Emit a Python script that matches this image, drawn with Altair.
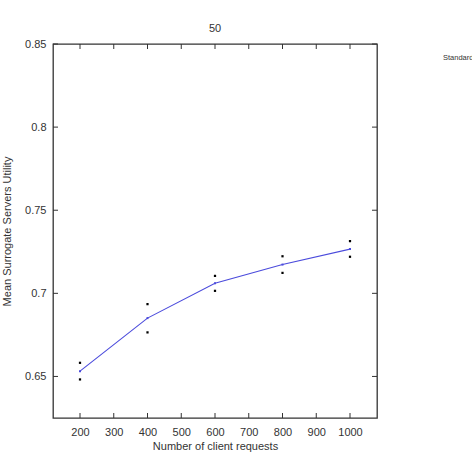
import altair as alt
import pandas as pd

# data
requests = [200, 400, 600, 800, 1000]
mean_util = [0.6532, 0.6851, 0.7061, 0.7173, 0.7266]
upper_util = [0.6582, 0.6935, 0.7105, 0.7223, 0.7314]
lower_util = [0.6482, 0.6765, 0.7015, 0.7123, 0.7220]
x_ticks = [200, 300, 400, 500, 600, 700, 800, 900, 1000]
y_ticks = [0.65, 0.7, 0.75, 0.8, 0.85]
legend_labels = ["Standard deviation"]
chart_title = "50"

W, H = 324, 374
TXT = "#333333"

df = pd.DataFrame({"x": requests, "mean": mean_util})
dev = pd.DataFrame({
    "x": requests * 2,
    "y": upper_util + lower_util,
})
xt = pd.DataFrame({"x": x_ticks})
yt = pd.DataFrame({"y": y_ticks})
leg = pd.DataFrame({"t": legend_labels})

xscale = alt.Scale(domain=[120, 1080], nice=False, zero=False)
yscale = alt.Scale(domain=[0.625, 0.85], nice=False, zero=False)

xaxis = alt.Axis(values=x_ticks, ticks=False, domain=False, grid=False,
                 labelFontSize=11, labelColor=TXT, labelPadding=8, format="d",
                 title="Number of client requests", titleFontSize=11,
                 titleFontWeight="normal", titleColor=TXT, titlePadding=3,
                 labelFont="Liberation Sans", titleFont="Liberation Sans")
yaxis = alt.Axis(values=y_ticks, ticks=False, domain=False, grid=False,
                 labelFontSize=11, labelColor=TXT, labelPadding=7,
                 format="~g",
                 title="Mean Surrogate Servers Utility", titleFontSize=11,
                 titleFontWeight="normal", titleColor=TXT, titlePadding=12,
                 labelFont="Liberation Sans", titleFont="Liberation Sans")

line = alt.Chart(df).mark_line(color="#4b4bdc", strokeWidth=1.1).encode(
    x=alt.X("x:Q", scale=xscale, axis=xaxis),
    y=alt.Y("mean:Q", scale=yscale, axis=yaxis),
)
vert = alt.Chart(df).mark_square(color="#4b4bdc", size=4, opacity=1).encode(
    x=alt.X("x:Q", scale=xscale), y=alt.Y("mean:Q", scale=yscale))
pts = alt.Chart(dev).mark_square(color="black", size=5, opacity=1).encode(
    x=alt.X("x:Q", scale=xscale), y=alt.Y("y:Q", scale=yscale))

tick_style = dict(color="#333333", strokeWidth=1)
bt = alt.Chart(xt).mark_rule(**tick_style).encode(
    x=alt.X("x:Q", scale=xscale), y=alt.value(H), y2=alt.value(H - 5))
tt = alt.Chart(xt).mark_rule(**tick_style).encode(
    x=alt.X("x:Q", scale=xscale), y=alt.value(0), y2=alt.value(5))
lt = alt.Chart(yt).mark_rule(**tick_style).encode(
    y=alt.Y("y:Q", scale=yscale), x=alt.value(0), x2=alt.value(5))
rt = alt.Chart(yt).mark_rule(**tick_style).encode(
    y=alt.Y("y:Q", scale=yscale), x=alt.value(W), x2=alt.value(W - 5))

legtext = alt.Chart(leg).mark_text(align="left", baseline="middle", fontSize=7.5,
                                   color=TXT, font="Liberation Sans").encode(
    text="t:N", x=alt.value(390), y=alt.value(14))

chart = alt.layer(line, vert, pts, bt, tt, lt, rt, legtext).properties(
    width=W, height=H,
    title=alt.TitleParams(chart_title, fontSize=11, fontWeight="normal",
                          color=TXT, offset=4, font="Liberation Sans"),
    autosize="none",
    padding={"left": 53, "top": 44, "right": 95, "bottom": 40},
).configure_view(stroke="#333333", strokeWidth=1.3)

chart.save("out.html", embed_options={"renderer": "svg", "actions": False})
